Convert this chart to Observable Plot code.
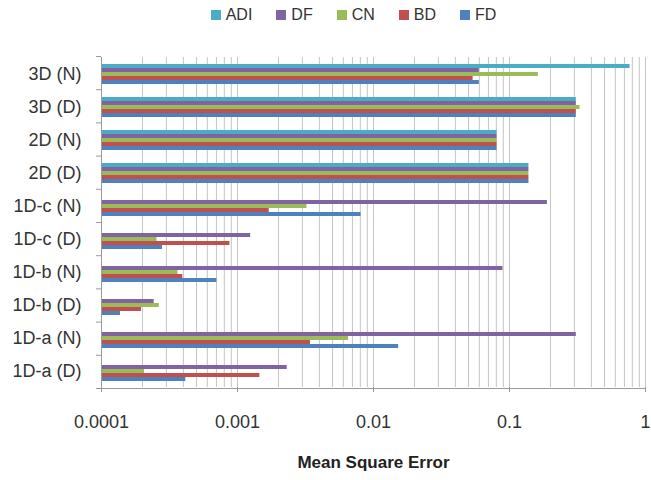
<!DOCTYPE html>
<html>
<head>
<meta charset="utf-8">
<script src="https://cdn.jsdelivr.net/npm/d3@7"></script>
<script src="https://cdn.jsdelivr.net/npm/@observablehq/plot@0.6"></script>
<style>
  body { margin: 0; background: #fff; font-family: "Liberation Sans", Arial, sans-serif; }
  #wrap { width: 651px; height: 480px; position: relative; overflow: hidden; }
  #legend { height: 30px; display: flex; justify-content: center; align-items: center; gap: 24px; font-size: 16px; color: #333; padding-left: 56px; box-sizing: border-box; }
  #legend .item { display: flex; align-items: center; gap: 5px; }
  #legend .sw { width: 10px; height: 10px; display: inline-block; }
  #xtitle { height: 40px; box-sizing: border-box; padding-left: 96px; padding-top: 13px; text-align: center; font-weight: bold; font-size: 17px; color: #222; }
</style>
</head>
<body>
<div id="wrap">
  <div id="legend"></div>
  <div id="chart"></div>
  <div id="xtitle">Mean Square Error</div>
</div>
<script>
const categories = ["3D (N)", "3D (D)", "2D (N)", "2D (D)", "1D-c (N)", "1D-c (D)", "1D-b (N)", "1D-b (D)", "1D-a (N)", "1D-a (D)"];
const series = ["ADI", "DF", "CN", "BD", "FD"];
const colors = ["#4BACC6", "#8064A2", "#9BBB59", "#C0504D", "#4F81BD"];

const ADI = [0.77, 0.31, 0.081, 0.139, null, null, null, null, null, null];
const DF  = [0.06, 0.31, 0.081, 0.139, 0.19, 0.00125, 0.0895, 0.000244, 0.31, 0.00232];
const CN  = [0.163, 0.33, 0.081, 0.139, 0.00324, 0.000256, 0.000365, 0.000266, 0.00656, 0.000207];
const BD  = [0.054, 0.31, 0.081, 0.139, 0.00171, 0.00088, 0.000396, 0.000197, 0.00344, 0.00146];
const FD  = [0.06, 0.31, 0.081, 0.139, 0.0081, 0.000281, 0.000705, 0.000138, 0.0153, 0.000417];

const xTicks = [0.0001, 0.001, 0.01, 0.1, 1];
const xTickLabels = ["0.0001", "0.001", "0.01", "0.1", "1"];

const seriesValues = [ADI, DF, CN, BD, FD];
const rows = categories.flatMap((c, i) =>
  series.map((s, j) => ({cat: c, series: s, value: seriesValues[j][i]}))
).filter(d => d.value != null);

const xMin = xTicks[0], xMax = xTicks[xTicks.length - 1];
const gridTicks = d3.scaleLog().domain([xMin, xMax]).ticks();

// legend
const legend = document.getElementById("legend");
series.forEach((s, i) => {
  const it = document.createElement("div");
  it.className = "item";
  it.innerHTML = `<span class="sw" style="background:${colors[i]}"></span><span>${s}</span>`;
  legend.appendChild(it);
});

const W = 651, H = 410, mT = 26, mB = 52, mL = 101, mR = 6;

const plot = Plot.plot({
  width: W, height: H,
  marginTop: mT, marginBottom: mB, marginLeft: mL, marginRight: mR,
  x: {type: "log", domain: [xMin, xMax]},
  y: {domain: series, paddingInner: 0, paddingOuter: 0.94, axis: null},
  fy: {domain: categories, padding: 0},
  color: {domain: series, range: colors},
  style: {fontFamily: "Liberation Sans, Arial, sans-serif", color: "#333", background: "#fff"},
  marks: [
    Plot.ruleX(gridTicks, {stroke: "#c4c4c4", strokeWidth: 1, strokeOpacity: 1}),
    Plot.barX(rows, {fy: "cat", y: "series", x1: xMin, x2: "value", fill: "series"}),
    Plot.ruleX([xMin], {stroke: "#9a9a9a", strokeOpacity: 1}),
    Plot.axisFy({anchor: "left", tickSize: 0, tickPadding: 20, fontSize: 18, label: null}),
    Plot.axisX({ticks: xTicks, tickFormat: d => xTickLabels[xTicks.indexOf(d)], tickSize: 5, tickPadding: 23, fontSize: 18, label: null, stroke: "#9a9a9a"})
  ]
});
document.getElementById("chart").appendChild(plot);

// axis line at bottom and category boundary ticks on the left
const svg = d3.select(plot.tagName.toLowerCase() === "svg" ? plot : plot.querySelector("svg"));
const xs = plot.scale("x");
const band = d3.scaleBand().domain(categories).range([mT, H - mB]).padding(0);
const x0 = xs.apply(xMin), x1 = xs.apply(xMax);
const g = svg.append("g").attr("stroke", "#9a9a9a");
g.append("line").attr("x1", x0).attr("x2", x1).attr("y1", H - mB + 0.5).attr("y2", H - mB + 0.5);
categories.forEach(c => {
  const y = band(c) + 0.5;
  g.append("line").attr("x1", x0 - 5).attr("x2", x0).attr("y1", y).attr("y2", y);
});
g.append("line").attr("x1", x0 - 5).attr("x2", x0).attr("y1", H - mB + 0.5).attr("y2", H - mB + 0.5);
</script>
</body>
</html>
